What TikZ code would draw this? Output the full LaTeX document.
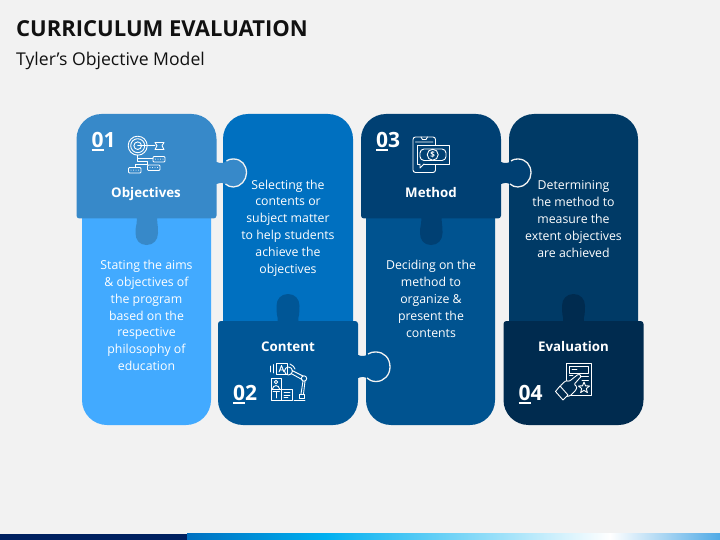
\documentclass[tikz,border=0pt]{standalone}
\usepackage{fontspec}
\setmainfont{Open Sans}
\definecolor{pagebg}{HTML}{F2F2F2}
\definecolor{bodyA}{HTML}{42AAFF}
\definecolor{headA}{HTML}{3789C9}
\definecolor{bodyB}{HTML}{0070C0}
\definecolor{headB}{HTML}{005696}
\definecolor{bodyC}{HTML}{005390}
\definecolor{headC}{HTML}{004073}
\definecolor{bodyD}{HTML}{003A66}
\definecolor{headD}{HTML}{002B4F}
\definecolor{titlecol}{HTML}{111111}
\tikzset{
  stepbody/.style={rounded corners=25pt},
  tabedge/.style={draw=pagebg,line width=1.3pt},
  nametext/.style={anchor=base,text=white,font=\fontsize{13.3}{16}\selectfont\bfseries},
  numtext/.style={text=white,font=\fontsize{21}{24}\selectfont\bfseries},
  steptext/.style={text=white,align=center,font=\fontsize{12.3}{16.85}\selectfont},
  iconline/.style={draw=white,line width=0.9pt,line join=round,line cap=round},
}
% outlines of the two head pieces, local coordinates
\newcommand{\sidetabA}{.. controls (144,50) and (148,49) .. (150,47) .. controls (153,45) and (155,45) .. (157,45)
  .. controls (165,45) and (170,51) .. (170,59) .. controls (170,66) and (164,73) .. (157,73)
  .. controls (154,73) and (151,72) .. (149,70) .. controls (147,68.5) and (144,68.5) .. (140,70)}
\newcommand{\sidetabB}{.. controls (144,36) and (148,35) .. (150,33) .. controls (153,31) and (155,31) .. (158,31)
  .. controls (166,31) and (172,37) .. (172,46) .. controls (172,54) and (166,60.5) .. (158,60.5)
  .. controls (154,60.5) and (151,59) .. (149,57) .. controls (147,55.5) and (144,55.5) .. (140,57)}
\newcommand{\headoutlineA}[1]{(25,0) -- (115,0) .. controls (128.8,0) and (140,11.2) .. (140,25) -- (140,48) #1
  -- (140,101.5) .. controls (140,103.2) and (138.8,104.5) .. (137,104.5) -- (80.5,104.5)
  .. controls (80,107) and (80.5,108) .. (81,110) .. controls (81.5,112) and (81.5,115) .. (81.5,119)
  .. controls (81.5,126) and (77,131) .. (70,131) .. controls (63,131) and (59,126) .. (59,119)
  .. controls (59,115) and (59.5,112) .. (60,110) .. controls (60.5,108) and (61,107) .. (60.5,104.5)
  -- (3,104.5) .. controls (1.2,104.5) and (0,103.2) .. (0,101.5) -- (0,25) .. controls (0,11.2) and (11.2,0) .. (25,0) -- cycle}
\newcommand{\headoutlineB}[1]{(3,0) -- (59.5,0) .. controls (60,-2) and (59.5,-4) .. (59,-6) .. controls (58.5,-9) and (58.5,-12) .. (58.5,-15)
  .. controls (58.5,-22) and (63,-27) .. (70,-27) .. controls (77,-27) and (81.5,-22) .. (81.5,-15)
  .. controls (81.5,-12) and (81.5,-9) .. (81,-6) .. controls (80.5,-4) and (80,-2) .. (80.5,0)
  -- (137,0) .. controls (138.8,0) and (140,1.2) .. (140,3) -- (140,34) #1 -- (140,79)
  .. controls (140,92.8) and (128.8,104) .. (115,104) -- (25,104) .. controls (11.2,104) and (0,92.8) .. (0,79)
  -- (0,3) .. controls (0,1.2) and (1.2,0) .. (3,0) -- cycle}
\newcommand{\stepno}[2]{\rlap{\raisebox{-3.6pt}{\rule{12pt}{1.5pt}}}#1#2}
\begin{document}
\begin{tikzpicture}[x=1pt,y=-1pt]
  \useasboundingbox (0,0) rectangle (720,540);
  \fill[pagebg] (0,0) rectangle (720,540);
  % footer band
  \fill[fill={rgb,255:red,0;green,32;blue,96}] (0,533.5) rectangle (187,540);
  \shade[left color={rgb,255:red,0;green,112;blue,192},right color={rgb,255:red,0;green,176;blue,240}] (187,533.5) rectangle (325,540);
  \shade[left color={rgb,255:red,0;green,176;blue,240},right color=white] (325,533.5) rectangle (610,540);
  \shade[left color=white,right color={rgb,255:red,80;green,170;blue,230}] (610,533.5) rectangle (720,540);
  % title
  \node[anchor=base west,inner sep=0pt,text=titlecol,font=\fontsize{22}{26}\selectfont\bfseries] (title) at (16,37) {CURRICULUM EVALUATION};
  \node[anchor=base west,inner sep=0pt,text=titlecol,font=\fontsize{17.6}{20}\selectfont] (subtitle) at (16,66) {Tyler’s Objective Model};
  % column bodies
  \fill[stepbody,bodyA] (82,170) rectangle (211,425);
  \fill[stepbody,bodyB] (223,114) rectangle (353,370);
  \fill[stepbody,bodyC] (366,170) rectangle (495,425);
  \fill[stepbody,bodyD] (509,114) rectangle (638,370);
  % heads
  \begin{scope}[shift={(76.5,114)}]
    \fill[headA] \headoutlineA{\sidetabA};
    \draw[tabedge] (150,47) .. controls (153,45) and (155,45) .. (157,45)
      .. controls (165,45) and (170,51) .. (170,59) .. controls (170,66) and (164,73) .. (157,73)
      .. controls (154,73) and (151,72) .. (149,70);
  \end{scope}
  \begin{scope}[shift={(361,114)}]
    \fill[headC] \headoutlineA{\sidetabA};
    \draw[tabedge] (150,47) .. controls (153,45) and (155,45) .. (157,45)
      .. controls (165,45) and (170,51) .. (170,59) .. controls (170,66) and (164,73) .. (157,73)
      .. controls (154,73) and (151,72) .. (149,70);
  \end{scope}
  \begin{scope}[shift={(218,321)}]
    \fill[headB] \headoutlineB{\sidetabB};
    \draw[tabedge] (150,33) .. controls (153,31) and (155,31) .. (158,31)
      .. controls (166,31) and (172,37) .. (172,46) .. controls (172,54) and (166,60.5) .. (158,60.5)
      .. controls (154,60.5) and (151,59) .. (149,57);
  \end{scope}
  \begin{scope}[shift={(503.5,321)}]
    \fill[headD] \headoutlineB{};
  \end{scope}
  % labels
  \node[nametext] (objectives) at (146,197) {Objectives};
  \node[nametext] (content) at (288,351) {Content};
  \node[nametext] (method) at (431,197) {Method};
  \node[nametext] (evaluation) at (573.5,351) {Evaluation};
  \node[numtext] (numA) at (103.5,141.5) {\stepno{0}{1}};
  \node[numtext] (numB) at (245,394.5) {\stepno{0}{2}};
  \node[numtext] (numC) at (388,141.5) {\stepno{0}{3}};
  \node[numtext] (numD) at (530.5,394.5) {\stepno{0}{4}};
  \node[steptext] (textA) at (146.5,315.5) {Stating the aims\\\& objectives of\\the program\\based on the\\respective\\philosophy of\\education};
  \node[steptext] (textB) at (288,228) {Selecting the\\contents or\\subject matter\\to help students\\achieve the\\objectives};
  \node[steptext] (textC) at (431,299) {Deciding on the\\method to\\organize \&\\present the\\contents};
  \node[steptext] (textD) at (573.5,219) {Determining\\the method to\\measure the\\extent objectives\\are achieved};
  % icon: target and boxes
  \begin{scope}[iconline]
    \draw (137.7,145.7) circle (9.5) circle (7) circle (3.8);
    \draw (137.7,145.7) -- (155,145.7);
    \draw (155,142.5) -- (164,142.5) -- (162,145.7) -- (164,149.5) -- (155,149.5) -- (157,145.7) -- cycle;
    \draw (137.5,155) -- (137.5,158.5) -- (153,158.5);
    \draw (137.5,158.5) -- (137.5,161.5) -- (147,161.5) -- (147,165);
    \draw (135,167) -- (135,164) -- (147,164);
    \draw[rounded corners=1pt] (153,156.5) rectangle (165,162);
    \draw[rounded corners=1pt] (147.5,165) rectangle (160,170.5);
    \draw[rounded corners=1pt] (128.5,167.5) rectangle (141,173);
    \foreach \ix in {155.5,158,160.5,163} {\fill[white] (\ix,159.2) circle (0.5);}
    \foreach \ix in {150,152.5,155,157.5} {\fill[white] (\ix,167.7) circle (0.5);}
    \foreach \ix in {131,133.5,136,138.5} {\fill[white] (\ix,170.2) circle (0.5);}
  \end{scope}
  % icon: robot arm and cabinet
  \begin{scope}[iconline]
    \draw (276,363) rectangle (287,374);
    \draw (279,372) -- (281.5,365.5) -- (284,372) (280,370) -- (283,370);
    \draw (288.5,371) circle (4);
    \draw (292,370.5) -- (303,376) (291,373.5) -- (302,379.5);
    \draw (304,378.5) circle (2.7);
    \draw (303,381) -- (301,394) (305,381) -- (303.5,394);
    \draw (299,394) rectangle (304.5,398);
    \draw (294,400) -- (305,400);
    \draw (271,378) rectangle (281.5,389) (271,389) rectangle (281.5,400) (281.5,389) rectangle (292,400);
    \draw (276,382) circle (1.8) (272.5,389) .. controls (273,384.5) and (279,384.5) .. (279.5,389);
    \draw (273,391.5) -- (279.5,391.5) (276.2,391.5) -- (276.2,398);
    \draw (284,392.5) -- (290,392.5) (284,395) -- (290,395) (284,397.5) -- (288,397.5);
    \draw (270,366) -- (270,372) (273,364.5) -- (273,373);
    \draw (290,364) .. controls (293,365) and (294,367) .. (295,369);
  \end{scope}
  % icon: phone and banknote
  \begin{scope}[iconline]
    \draw[rounded corners=2.5pt] (413,137) rectangle (435.5,172.5);
    \draw (415.5,142) -- (433,142) (421,137) -- (422.5,139.5) -- (426,139.5) -- (427.5,137);
    \draw[fill=headC] (417.5,145.7) rectangle (449,164);
    \draw[fill=headC,rounded corners=4pt] (420,149) rectangle (446,160.5);
    \draw[fill=headC] (432.7,154.7) circle (5.5);
    \node[inner sep=0pt,text=white,font=\fontsize{8}{8}\selectfont\bfseries] (dollar) at (432.7,154.7) {\$};
    \draw[fill=headC] (420,164) -- (420,168) -- (424,164);
  \end{scope}
  % icon: sheet, star and hand
  \begin{scope}[iconline]
    \draw (566,363) rectangle (591.5,395);
    \draw (569.5,366) rectangle (588.5,373);
    \draw (572,369.5) -- (577,369.5) (569.5,375.5) -- (573,375.5) (580,376) -- (588.5,376) (582,380) -- (588.5,380);
    \draw (584,382) -- (585.5,385.8) -- (589.5,386) -- (586.3,388.6) -- (587.4,392.6) -- (584,390.3) -- (580.6,392.6) -- (581.7,388.6) -- (578.5,386) -- (582.5,385.8) -- cycle;
    \draw[fill=headD,rounded corners=1.2pt] (560,386) -- (566,380.5) -- (569,381.5) -- (578.5,374) -- (581.5,376) -- (574,384.5) -- (577,386.5) -- (576,390) -- (570,396) -- (565.5,396.5) -- cycle;
    \draw[fill=headD] (555.5,391.5) -- (560,386) -- (568,395) -- (563,400) -- cycle;
  \end{scope}
\end{tikzpicture}
\end{document}
